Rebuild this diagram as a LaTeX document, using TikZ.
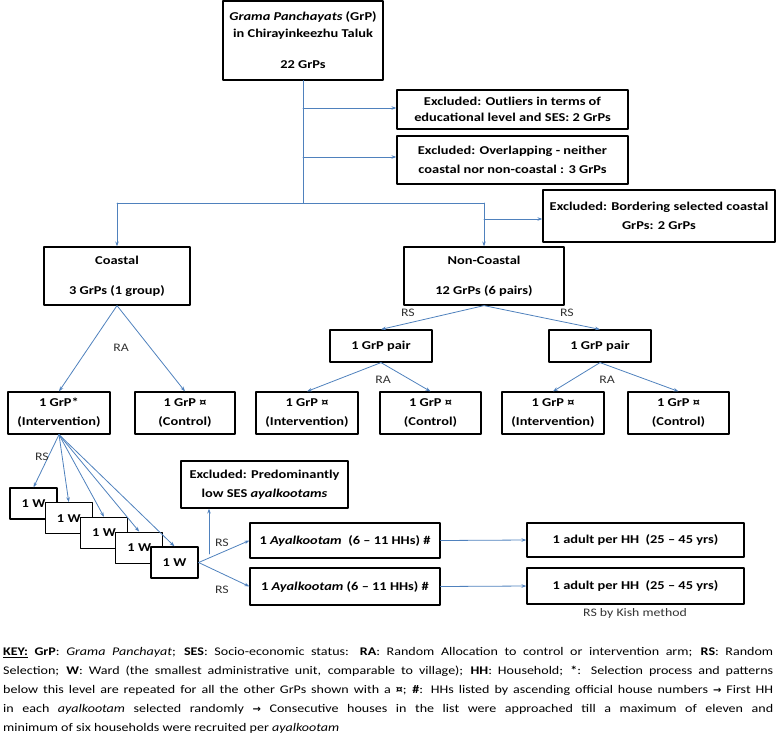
\documentclass[tikz,border=0pt]{standalone}
\usepackage{fontspec}
\setmainfont{Carlito}[FakeStretch=1.2]
\newfontfamily\arrowfont{DejaVu Sans}
\usetikzlibrary{arrows.meta}
\definecolor{linkblue}{RGB}{79,129,189}
\newcommand{\keyarrow}{{\arrowfont\fontsize{10}{12}\selectfont\bfseries →}}

\begin{document}
\begin{tikzpicture}[
    x=1pt,y=-1pt,
    line cap=round,
    line join=round,
    box/.style={draw=black,line width=1.2pt,fill=white,align=center,
      inner sep=0pt,font=\fontsize{12}{19}\selectfont\bfseries},
    wh/.style 2 args={minimum width=#1pt,minimum height=#2pt},
    link/.style={draw=linkblue,line width=0.8pt,-{Stealth[length=5pt,width=3.5pt]}},
    bare/.style={draw=linkblue,line width=0.8pt},
    lbl/.style={font=\fontsize{11.5}{12}\selectfont,text=black!80},
]
\useasboundingbox (0,0) rectangle (776,742);

% top level
\node[box,wh={160}{79},font=\fontsize{12}{17}\selectfont\bfseries] (top) at (303,40.5)
  {\textit{Grama Panchayats} (GrP)\\in Chirayinkeezhu Taluk\\[14pt]22 GrPs};
\node[box,wh={231}{39},font=\fontsize{12}{16}\selectfont\bfseries] (ex1) at (512.5,109.5)
  {Excluded: Outliers in terms of\\educational level and SES: 2 GrPs};
\node[box,wh={231}{48}] (ex2) at (512.5,160)
  {Excluded: Overlapping - neither\\coastal nor non-coastal : 3 GrPs};
\node[box,wh={232}{52}] (ex3) at (659,216)
  {Excluded: Bordering selected coastal\\GrPs: 2 GrPs};

% coastal / non-coastal
\node[box,wh={146}{58}] (coastal) at (117,276) {Coastal\\[11pt]3 GrPs (1 group)};
\node[box,wh={160}{58}] (noncoastal) at (484,276) {Non-Coastal\\[11pt]12 GrPs (6 pairs)};
\node[box,wh={102}{32}] (pair1) at (381,346) {1 GrP pair};
\node[box,wh={102}{32}] (pair2) at (600,346) {1 GrP pair};

% arms
\node[box,wh={102}{42}] (b1) at (59,413) {1 GrP*\\(Intervention)};
\node[box,wh={100}{42}] (b2) at (185,413) {1 GrP ¤\\(Control)};
\node[box,wh={102}{42}] (b3) at (307,413) {1 GrP ¤\\(Intervention)};
\node[box,wh={101}{42}] (b4) at (430.5,413) {1 GrP ¤\\(Control)};
\node[box,wh={102}{42}] (b5) at (553,413) {1 GrP ¤\\(Intervention)};
\node[box,wh={101}{42}] (b6) at (678.5,413) {1 GrP ¤\\(Control)};

% wards
\foreach \i in {1,...,5}
  \node[box,wh={47}{31}] (w\i) at ({33.5+35.25*(\i-1)},{503.5+14.75*(\i-1)}) {1 W};

% ayalkootams and adults
\node[box,wh={167}{47}] (exP) at (264.5,484.5)
  {Excluded: Predominantly\\low SES \textit{ayalkootams}};
\node[box,wh={190}{35}] (ay1) at (345,540.5) {1 \textit{Ayalkootam}~ (6 – 11 HHs) \#};
\node[box,wh={190}{37}] (ay2) at (345,586.5) {1 \textit{Ayalkootam} (6 – 11 HHs) \#};
\node[box,wh={217}{34}] (ad1) at (635.5,540) {1 adult per HH~ (25 – 45 yrs)};
\node[box,wh={217}{36}] (ad2) at (635.5,586) {1 adult per HH~ (25 – 45 yrs)};
\node[lbl] (kish) at (635,613) {RS by Kish method};

% connectors
\coordinate (t1) at (303,108);
\coordinate (t2) at (303,157);
\coordinate (split) at (303,203);
\coordinate (t3) at (484,219);
\draw[bare] (top.south) -- (split);
\draw[link] (t1) -- (t1 -| ex1.west);
\draw[link] (t2) -- (t2 -| ex2.west);
\draw[bare] (coastal.north |- split) -- (noncoastal.north |- split);
\draw[link] (coastal.north |- split) -- (coastal.north);
\draw[link] (noncoastal.north |- split) -- (noncoastal.north);
\draw[link] (t3) -- (t3 -| ex3.west);

\draw[link] (coastal.south) -- (b1.north);
\draw[link] (coastal.south) -- (b2.north);
\node[lbl] (ra0) at (121,348) {RA};
\draw[link] (noncoastal.south) -- (pair1.north);
\draw[link] (noncoastal.south) -- (pair2.north);
\node[lbl] (rs1) at (408,313) {RS};
\node[lbl] (rs2) at (567,313) {RS};
\draw[link] (pair1.south) -- (b3.north);
\draw[link] (pair1.south) -- (b4.north);
\node[lbl] (ra1) at (383,380) {RA};
\draw[link] (pair2.south) -- (b5.north);
\draw[link] (pair2.south) -- (b6.north);
\node[lbl] (ra2) at (607,380) {RA};

\foreach \i in {1,...,5}
  \draw[link] (b1.south) -- (w\i.north);
\node[lbl] (rs3) at (42,457) {RS};

\coordinate (up) at (209,554);
\draw[link] (up) -- (up |- exP.south);
\draw[link] (w5.east) -- (ay1.west);
\draw[link] (w5.east) -- (ay2.west);
\node[lbl] (rs4) at (222,543) {RS};
\node[lbl] (rs5) at (222,590) {RS};
\draw[link] (ay1.east) -- (ad1.west);
\draw[link] (ay2.east) -- (ad2.west);

% key
\node[anchor=north west,text width=770pt,align=justify,inner sep=0pt,
  font=\fontsize{11.7}{19}\selectfont] (key) at (3,647)
  {\textbf{\underline{KEY:}} \textbf{GrP}: \textit{Grama Panchayat}; \textbf{SES}: Socio-economic status: \textbf{RA}: Random Allocation to control or intervention arm; \textbf{RS}: Random\linebreak
  Selection; \textbf{W}: Ward (the smallest administrative unit, comparable to village); \textbf{HH}: Household; \textbf{*}: Selection process and patterns\linebreak
  below this level are repeated for all the other GrPs shown with a \textbf{¤}; \textbf{\#}: HHs listed by ascending official house numbers \keyarrow{} First HH\linebreak
  in each \textit{ayalkootam} selected randomly \keyarrow{} Consecutive houses in the list were approached till a maximum of eleven and\linebreak
  minimum of six households were recruited per \textit{ayalkootam}\par};
\end{tikzpicture}
\end{document}
